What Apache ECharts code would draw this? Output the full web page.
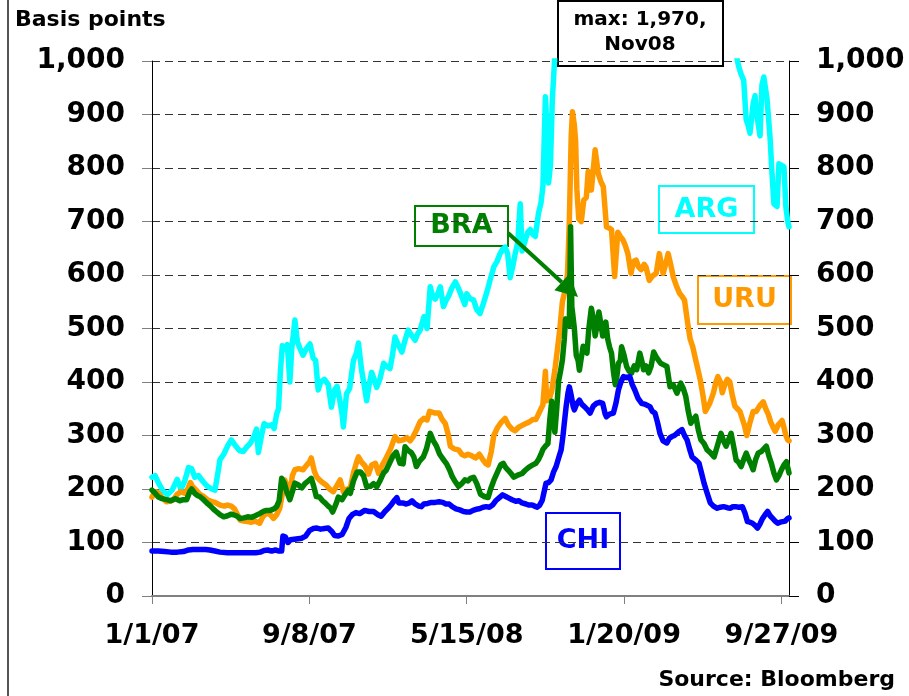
<!DOCTYPE html>
<html><head><meta charset="utf-8">
<script src="https://cdn.jsdelivr.net/npm/echarts@6/dist/echarts.min.js"></script>
<style>html,body{margin:0;padding:0;background:#fff}#c{width:909px;height:696px}</style>
</head><body><div id="c"></div>
<script>
// x = days since 1 Jan 2007
const xTickDays = [0, 250, 500, 750, 1000];
const xTickLabels = ['1/1/07', '9/8/07', '5/15/08', '1/20/09', '9/27/09'];
const yTicks = [0, 100, 200, 300, 400, 500, 600, 700, 800, 900, 1000];

// [day, basis points]
const ARG = [[0,222],[5,225],[10,212],[18,195],[25,190],[32,198],[40,218],[46,200],[52,215],[58,240],[63,238],[68,222],[74,225],[81,214],[88,205],[95,200],[100,198],[104,225],[108,255],[114,265],[120,280],[126,292],[132,282],[139,272],[145,270],[150,278],[156,285],[162,298],[166,312],[169,268],[174,300],[178,322],[184,318],[190,320],[194,313],[198,340],[201,350],[204,420],[207,468],[211,462],[215,470],[219,400],[222,462],[227,516],[231,475],[236,460],[240,450],[245,462],[251,471],[256,445],[260,440],[264,385],[268,400],[274,405],[280,395],[285,353],[290,385],[294,392],[298,368],[302,340],[304,316],[309,378],[314,388],[320,440],[325,455],[328,473],[333,422],[337,395],[341,365],[345,395],[349,418],[353,405],[357,390],[362,405],[368,435],[372,430],[378,425],[382,450],[386,484],[391,470],[397,456],[402,478],[407,497],[412,488],[418,478],[422,490],[426,497],[432,522],[437,500],[442,578],[446,560],[450,555],[454,565],[458,578],[463,541],[467,552],[471,560],[476,575],[482,587],[487,575],[492,560],[497,545],[500,565],[505,556],[511,553],[516,535],[521,528],[526,545],[532,568],[537,590],[543,615],[548,625],[553,640],[557,648],[561,652],[565,640],[569,595],[573,615],[577,640],[581,660],[585,733],[588,645],[593,665],[597,680],[601,685],[605,676],[609,672],[614,715],[618,735],[621,765],[625,933],[628,860],[630,772],[633,805],[636,927],[640,1010],[648,1200],[660,1500],[675,1800],[690,1970],[705,1750],[720,1550],[740,1400],[760,1450],[780,1600],[800,1500],[820,1400],[850,1350],[880,1200],[905,1100],[925,1030],[932,990],[936,975],[940,964],[944,890],[947,880],[950,865],[955,920],[958,935],[960,905],[966,860],[969,955],[972,970],[975,968],[977,930],[982,855],[985,790],[988,733],[993,728],[996,808],[1000,805],[1004,802],[1007,728],[1010,700],[1012,690]];

const URU = [[0,185],[5,195],[9,194],[15,185],[23,176],[30,178],[34,180],[40,190],[46,195],[52,192],[57,200],[61,212],[64,205],[70,198],[76,190],[82,186],[88,180],[94,177],[100,175],[108,170],[115,168],[120,170],[126,168],[131,163],[136,152],[140,142],[146,140],[152,139],[158,138],[164,140],[171,136],[176,148],[182,155],[188,152],[193,145],[198,152],[203,164],[207,190],[211,217],[215,205],[219,192],[223,225],[227,236],[233,238],[240,236],[246,245],[250,250],[253,258],[258,233],[262,222],[266,217],[271,212],[277,207],[282,200],[288,195],[293,205],[299,217],[304,195],[310,200],[315,202],[320,230],[325,250],[328,260],[333,250],[338,244],[344,228],[349,245],[355,248],[360,229],[366,245],[372,258],[379,275],[386,298],[392,290],[399,292],[405,296],[410,290],[415,298],[420,310],[426,326],[432,332],[437,329],[441,345],[444,348],[450,342],[456,342],[461,330],[466,322],[471,300],[474,280],[480,275],[487,273],[492,265],[497,262],[502,265],[508,262],[514,258],[520,265],[525,256],[530,248],[534,245],[539,270],[543,300],[549,315],[555,325],[561,332],[566,320],[572,312],[577,309],[582,315],[588,319],[593,322],[599,325],[605,330],[610,330],[614,340],[618,350],[621,357],[625,420],[627,365],[631,368],[635,383],[640,422],[644,460],[648,500],[652,550],[656,570],[660,600],[663,700],[666,860],[668,905],[671,880],[673,850],[675,760],[678,705],[682,700],[686,740],[690,745],[693,794],[698,759],[704,834],[709,790],[713,775],[717,765],[722,690],[726,688],[730,685],[735,597],[740,680],[744,672],[748,666],[752,655],[756,640],[761,603],[765,625],[769,628],[773,615],[777,610],[782,620],[785,614],[790,590],[795,598],[801,603],[806,640],[812,603],[816,620],[820,640],[824,620],[828,597],[833,580],[838,566],[842,560],[846,553],[851,510],[855,480],[859,466],[864,440],[868,420],[871,404],[876,370],[879,345],[882,342],[886,360],[889,370],[892,380],[896,400],[899,410],[903,400],[906,380],[910,395],[914,405],[918,400],[922,375],[926,355],[930,350],[934,345],[937,342],[941,320],[945,300],[949,320],[955,345],[960,345],[965,355],[971,363],[975,350],[979,340],[983,325],[987,315],[990,308],[995,320],[1001,328],[1004,315],[1007,300],[1010,292],[1012,290]];

const BRA = [[0,198],[5,192],[10,185],[16,182],[23,180],[30,178],[37,182],[44,178],[50,180],[55,180],[60,195],[63,200],[68,192],[72,188],[76,186],[82,180],[87,174],[93,168],[98,162],[103,157],[108,152],[114,148],[120,150],[126,153],[129,154],[134,150],[140,145],[146,146],[152,148],[158,147],[164,150],[171,154],[177,158],[182,160],[188,160],[194,163],[198,167],[202,178],[206,220],[210,212],[214,195],[219,180],[223,195],[227,211],[232,208],[238,202],[243,210],[248,215],[253,220],[257,205],[261,186],[266,185],[271,178],[275,174],[280,168],[284,164],[287,157],[293,174],[296,185],[302,180],[306,188],[312,198],[315,192],[320,215],[326,232],[331,232],[336,225],[341,204],[347,205],[352,210],[357,204],[362,215],[368,230],[372,235],[378,250],[383,262],[388,269],[394,248],[399,247],[402,279],[407,272],[412,268],[416,260],[420,242],[425,252],[431,260],[436,275],[442,304],[447,290],[452,280],[457,265],[463,255],[468,247],[473,235],[477,223],[481,215],[487,205],[492,210],[497,217],[502,215],[506,220],[511,222],[516,210],[522,190],[528,186],[534,184],[538,200],[543,216],[549,232],[554,245],[558,248],[562,240],[566,235],[571,228],[575,222],[581,226],[588,229],[593,235],[599,241],[605,245],[610,248],[614,255],[618,265],[621,274],[625,280],[629,285],[632,330],[635,364],[638,330],[640,306],[643,350],[646,402],[649,420],[652,441],[655,480],[657,518],[660,510],[663,505],[665,690],[667,540],[668,531],[671,500],[674,450],[677,440],[679,422],[682,445],[685,467],[688,460],[691,454],[694,500],[698,538],[701,520],[704,486],[707,505],[710,531],[713,510],[716,486],[719,500],[721,512],[724,480],[727,465],[730,454],[733,420],[736,395],[738,405],[741,435],[744,440],[746,466],[750,450],[754,429],[758,420],[762,417],[766,430],[770,423],[775,454],[778,440],[781,423],[785,430],[789,417],[793,430],[797,456],[802,445],[808,435],[813,432],[818,429],[823,391],[828,395],[834,379],[840,398],[844,388],[848,373],[852,345],[856,323],[860,330],[864,336],[868,310],[872,292],[877,285],[882,273],[887,268],[893,260],[898,280],[904,304],[908,290],[912,280],[916,292],[920,304],[924,280],[928,254],[932,250],[936,242],[940,255],[944,267],[948,255],[952,245],[955,236],[959,255],[963,267],[968,270],[972,275],[976,280],[980,262],[984,248],[988,230],[992,217],[996,225],[1000,236],[1004,245],[1008,251],[1010,240],[1012,230]];

const CHI = [[0,84],[10,84],[20,83],[30,82],[40,82],[50,83],[58,86],[65,87],[75,87],[85,87],[92,86],[100,84],[108,82],[120,81],[135,81],[150,81],[165,81],[172,82],[178,85],[184,86],[190,84],[196,86],[202,84],[206,84],[208,112],[212,110],[216,100],[220,105],[226,106],[232,107],[238,108],[244,112],[250,122],[256,126],[262,127],[268,125],[274,126],[280,127],[286,120],[290,113],[296,112],[302,115],[308,128],[313,145],[318,152],[324,156],[330,154],[338,160],[345,158],[352,158],[359,152],[364,149],[370,158],[376,165],[381,172],[386,180],[389,184],[392,174],[398,174],[404,172],[409,174],[413,178],[418,172],[424,168],[428,167],[432,172],[438,173],[444,175],[450,175],[456,176],[462,175],[467,172],[472,172],[477,167],[483,163],[489,161],[495,158],[500,157],[505,157],[510,160],[515,162],[520,163],[526,166],[531,167],[536,166],[541,170],[546,178],[551,183],[557,189],[562,186],[567,183],[572,180],[578,177],[583,178],[588,174],[594,172],[599,170],[604,170],[608,168],[612,166],[616,170],[620,179],[623,195],[626,211],[630,212],[634,217],[638,232],[642,242],[646,258],[650,273],[653,300],[655,323],[658,355],[661,380],[663,391],[666,375],[669,355],[671,348],[675,360],[679,366],[683,358],[687,354],[692,348],[696,342],[701,355],[706,360],[711,362],[716,360],[720,340],[722,335],[727,340],[733,342],[737,360],[741,385],[745,400],[749,410],[754,408],[759,410],[763,395],[767,385],[772,370],[778,360],[784,358],[791,354],[795,345],[799,342],[803,325],[807,304],[812,290],[818,286],[822,295],[826,298],[830,300],[834,304],[838,308],[842,311],[846,300],[850,292],[854,275],[858,260],[863,255],[869,248],[873,230],[877,211],[882,192],[887,174],[892,168],[898,164],[903,166],[908,167],[914,165],[919,164],[923,167],[927,167],[932,166],[938,167],[942,155],[946,139],[950,138],[954,136],[958,132],[962,127],[966,135],[970,145],[974,152],[978,158],[982,150],[986,145],[990,140],[994,136],[998,138],[1002,139],[1006,140],[1010,145],[1012,146]];

const seriesNames = ['ARG', 'URU', 'BRA', 'CHI'];
const seriesColors = ['#00FFFF', '#FF9900', '#008000', '#0000FF'];
const seriesData = [ARG, URU, BRA, CHI];

const FONT = "'DejaVu Sans', Verdana, sans-serif";
const chart = echarts.init(document.getElementById('c'), null, {renderer: 'canvas'});

function fmtNum(v) { return v.toLocaleString('en-US'); }

const yAxisCommon = {
  type: 'value', min: 0, max: 1000, interval: 100,
  axisLine: {show: true, lineStyle: {color: '#000', width: 1}},
  axisTick: {show: true, length: 10, lineStyle: {color: '#808080', width: 1}},
  axisLabel: {fontFamily: FONT, fontWeight: 'bold', fontSize: 28, color: '#000', margin: 27, formatter: fmtNum}
};

function boxGroup(x, y, w, h, color, text, fontSize) {
  return {
    type: 'group', x: x, y: y, z: 100,
    children: [
      {type: 'rect', shape: {x: 0, y: 0, width: w, height: h}, style: {fill: '#fff', stroke: color, lineWidth: 2}},
      {type: 'text', x: w / 2, y: h / 2, style: {text: text, fill: color, font: 'bold ' + fontSize + 'px ' + FONT, align: 'center', verticalAlign: 'middle'}}
    ]
  };
}

// arrow geometry (BRA callout)
const arrowStart = [508, 233], arrowTip = [578, 297];
const adx = arrowTip[0] - arrowStart[0], ady = arrowTip[1] - arrowStart[1];
const alen = Math.sqrt(adx * adx + ady * ady);
const ux = adx / alen, uy = ady / alen;
const headL = 22, headW = 11;
const baseC = [arrowTip[0] - ux * headL, arrowTip[1] - uy * headL];

const option = {
  backgroundColor: '#fff',
  animation: false,
  grid: {left: 152, right: 120, top: 61, bottom: 100, containLabel: false},
  xAxis: {
    type: 'value', min: 0, max: 1012, interval: 250,
    axisLine: {show: true, onZero: false, lineStyle: {color: '#808080', width: 2}},
    axisTick: {show: true, length: 8, customValues: xTickDays, lineStyle: {color: '#808080', width: 1}},
    axisLabel: {customValues: xTickDays, fontFamily: FONT, fontWeight: 'bold', fontSize: 27, color: '#000', margin: 26,
      formatter: function (v) { const i = xTickDays.indexOf(v); return i >= 0 ? xTickLabels[i] : ''; }},
    splitLine: {show: false}
  },
  yAxis: [
    Object.assign({}, yAxisCommon, {position: 'left',
      splitLine: {show: true, lineStyle: {color: '#333', width: 1, type: [8, 5]}}}),
    Object.assign({}, yAxisCommon, {position: 'right', splitLine: {show: false},
      axisTick: {show: true, length: 10, inside: false, lineStyle: {color: '#000', width: 1}}})
  ],
  series: seriesNames.map(function (n, i) {
    return {
      name: n, type: 'line', yAxisIndex: 0, showSymbol: false, symbol: 'none', clip: true,
      data: seriesData[i],
      lineStyle: {color: seriesColors[i], width: 5.5, join: 'round', cap: 'round'},
      z: 2 + i
    };
  }),
  graphic: [
    {type: 'line', z: 100, shape: {x1: 8, y1: 0, x2: 8, y2: 696}, style: {stroke: '#555', lineWidth: 2}},
    {type: 'text', z: 100, x: 15, y: 9, style: {text: 'Basis points', fill: '#000', font: 'bold 22px ' + FONT}},
    {type: 'text', z: 100, x: 895, y: 669, style: {text: 'Source: Bloomberg', fill: '#000', font: 'bold 22px ' + FONT, align: 'right'}},
    {
      type: 'group', x: 558, y: 1, z: 100,
      children: [
        {type: 'rect', shape: {x: 0, y: 0, width: 165, height: 65}, style: {fill: '#fff', stroke: '#000', lineWidth: 2}},
        {type: 'text', x: 82, y: 19, style: {text: 'max: 1,970,', fill: '#000', font: 'bold 20px ' + FONT, align: 'center', verticalAlign: 'middle'}},
        {type: 'text', x: 82, y: 44, style: {text: 'Nov08', fill: '#000', font: 'bold 20px ' + FONT, align: 'center', verticalAlign: 'middle'}}
      ]
    },
    boxGroup(415, 206, 93, 40, '#008000', 'BRA', 27),
    boxGroup(659, 186, 95, 47, '#00FFFF', 'ARG', 27),
    boxGroup(698, 276, 93, 48, '#FF9900', 'URU', 27),
    boxGroup(546, 513, 74, 56, '#0000FF', 'CHI', 27),
    {type: 'line', z: 101, shape: {x1: arrowStart[0], y1: arrowStart[1], x2: baseC[0], y2: baseC[1]}, style: {stroke: '#008000', lineWidth: 4}},
    {type: 'polygon', z: 101, shape: {points: [arrowTip, [baseC[0] - uy * headW, baseC[1] + ux * headW], [baseC[0] + uy * headW, baseC[1] - ux * headW]]}, style: {fill: '#008000'}}
  ]
};
chart.setOption(option);
</script>
</body></html>
